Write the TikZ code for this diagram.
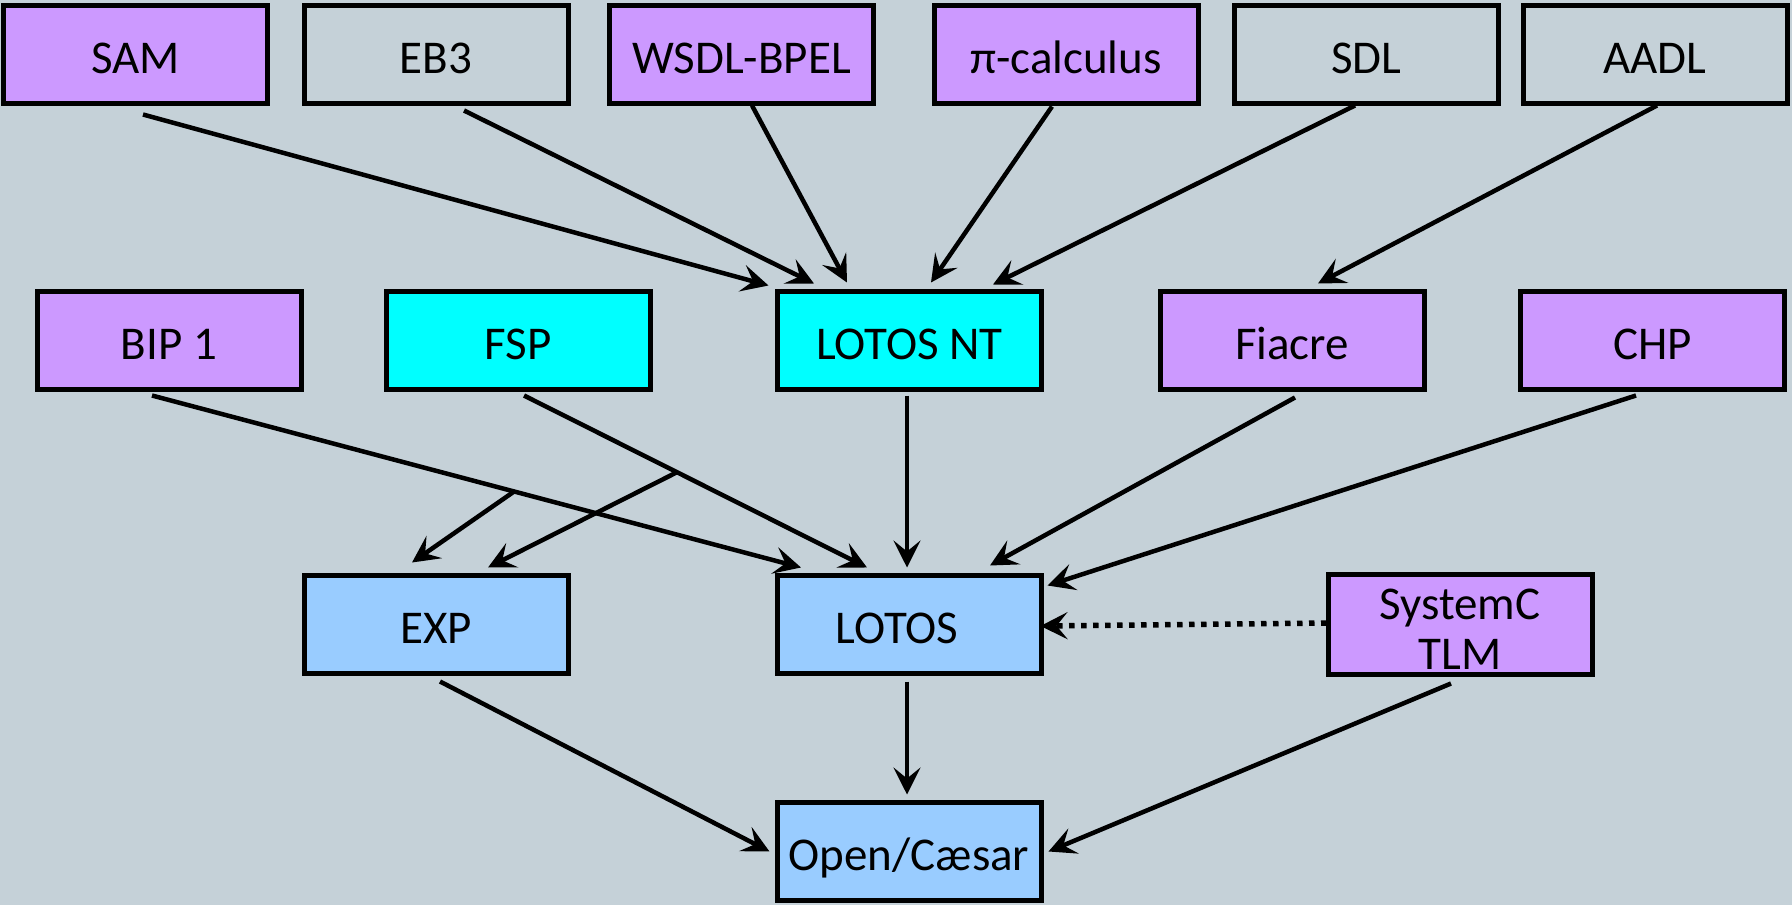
\documentclass[tikz,border=0pt]{standalone}
\usepackage{fontspec}
\setmainfont{Carlito}
\usetikzlibrary{arrows.meta}
\definecolor{bgcol}{HTML}{C5D1D8}
\definecolor{purp}{HTML}{CC99FF}
\definecolor{cyanbox}{HTML}{00FFFF}
\definecolor{bluebox}{HTML}{99CCFF}
\begin{document}
\begin{tikzpicture}[x=1pt,y=-1pt,
  box/.style={draw=black, line width=5pt, minimum width=264pt, minimum height=98pt,
    inner sep=0pt, align=center, font=\fontsize{47}{50}\selectfont,
    text height=38pt, text depth=0pt},
  pbox/.style={box, fill=purp},
  cbox/.style={box, fill=cyanbox},
  bbox/.style={box, fill=bluebox},
  gbox/.style={box},
  twoline/.style={text height={}, text depth={}},
  conn/.style={line width=4.5pt, -{Stealth[length=27pt,width=27pt,inset=11pt]}},
  thinconn/.style={conn, line width=3.5pt},
  dotconn/.style={conn, line width=5.5pt, dash pattern=on 5.5pt off 6.5pt}
]
\fill[bgcol] (0,0) rectangle (1792,905);
\useasboundingbox (0,0) rectangle (1792,905);

% row 1
\node[pbox] (sam)  at (135.5,54) {SAM};
\node[gbox] (eb3)  at (436,54)   {EB3};
\node[pbox] (wsdl) at (741.5,54) {WSDL-BPEL};
\node[pbox] (pi)   at (1066,54)  {π-calculus};
\node[gbox] (sdl)  at (1366.5,54) {SDL};
\node[gbox] (aadl) at (1655,54)  {AADL};

% row 2
\node[pbox] (bip)     at (169,340.5)   {BIP 1};
\node[cbox] (fsp)     at (518,340.5)   {FSP};
\node[cbox] (lotosnt) at (909.5,340.5) {LOTOS NT};
\node[pbox] (fiacre)  at (1292,340.5)  {Fiacre};
\node[pbox] (chp)     at (1652.5,340.5) {CHP};

% row 3
\node[bbox] (exp)     at (436,624)  {EXP};
\node[bbox] (lotos)   at (909,624)  {\hspace*{-24pt}LOTOS};
\node[pbox, twoline] (systemc) at (1460,624)
  {\raisebox{-10pt}[\height][\depth]{\begin{tabular}{@{}c@{}}SystemC\\TLM\end{tabular}}};

% row 4
\node[bbox] (open) at (909,851.5) {Open/Cæsar};

% row 1 -> row 2
\draw[conn] ([xshift=7.5pt,yshift=-9pt]sam.south) -- ([xshift=-6.5pt,yshift=3.5pt]lotosnt.north west);
\draw[conn] ([xshift=28pt,yshift=-5pt]eb3.south) -- ([xshift=-95.5pt,yshift=5.5pt]lotosnt.north);
\draw[conn] ([xshift=10.5pt]wsdl.south) -- ([xshift=-62.5pt,yshift=6.5pt]lotosnt.north);
\draw[conn] ([xshift=-14pt,yshift=-1pt]pi.south) -- ([xshift=21.5pt,yshift=6.5pt]lotosnt.north);
\draw[conn] ([xshift=-11.5pt]sdl.south) -- ([xshift=83.5pt,yshift=4.5pt]lotosnt.north);
\draw[conn] ([xshift=2pt]aadl.south) -- ([xshift=26pt,yshift=5.5pt]fiacre.north);

% row 2 -> row 3
\draw[conn] ([xshift=-17pt,yshift=-3.5pt]bip.south) -- ([xshift=-108pt,yshift=5pt]lotos.north);
\draw[conn] ([xshift=6pt,yshift=-3.5pt]fsp.south) -- ([xshift=-42pt,yshift=5pt]lotos.north);
\draw[thinconn] ([xshift=-2.5pt,yshift=-3.5pt]lotosnt.south) -- ([xshift=-2pt,yshift=5pt]lotos.north);
\draw[conn] ([xshift=3pt,yshift=-5.5pt]fiacre.south) -- ([xshift=81pt,yshift=7pt]lotos.north);
\draw[conn] ([xshift=-16.5pt,yshift=-3.5pt]chp.south) -- ([xshift=4pt,yshift=-13pt]lotos.north east);

% branches to EXP
\path ([xshift=-17pt,yshift=-3.5pt]bip.south) -- ([xshift=-108pt,yshift=5pt]lotos.north) coordinate[pos=0.558] (b1);
\path ([xshift=6pt,yshift=-3.5pt]fsp.south) -- ([xshift=-42pt,yshift=5pt]lotos.north) coordinate[pos=0.446] (b2);
\draw[conn] (b1) -- ([xshift=-24pt,yshift=10pt]exp.north);
\draw[conn] (b2) -- ([xshift=52pt,yshift=5pt]exp.north);

% dotted
\draw[dotconn] ([xshift=1pt,yshift=1pt]systemc.west) -- ([xshift=-3pt,yshift=-2pt]lotos.east);

% row 3 -> row 4
\draw[conn] ([xshift=4pt,yshift=-6pt]exp.south) -- ([xshift=-5pt]open.west);
\draw[thinconn] ([xshift=-2pt,yshift=-6pt]lotos.south) -- ([xshift=-2pt,yshift=5.5pt]open.north);
\draw[conn] ([xshift=-9pt,yshift=-7pt]systemc.south) -- ([xshift=5pt]open.east);
\end{tikzpicture}
\end{document}
